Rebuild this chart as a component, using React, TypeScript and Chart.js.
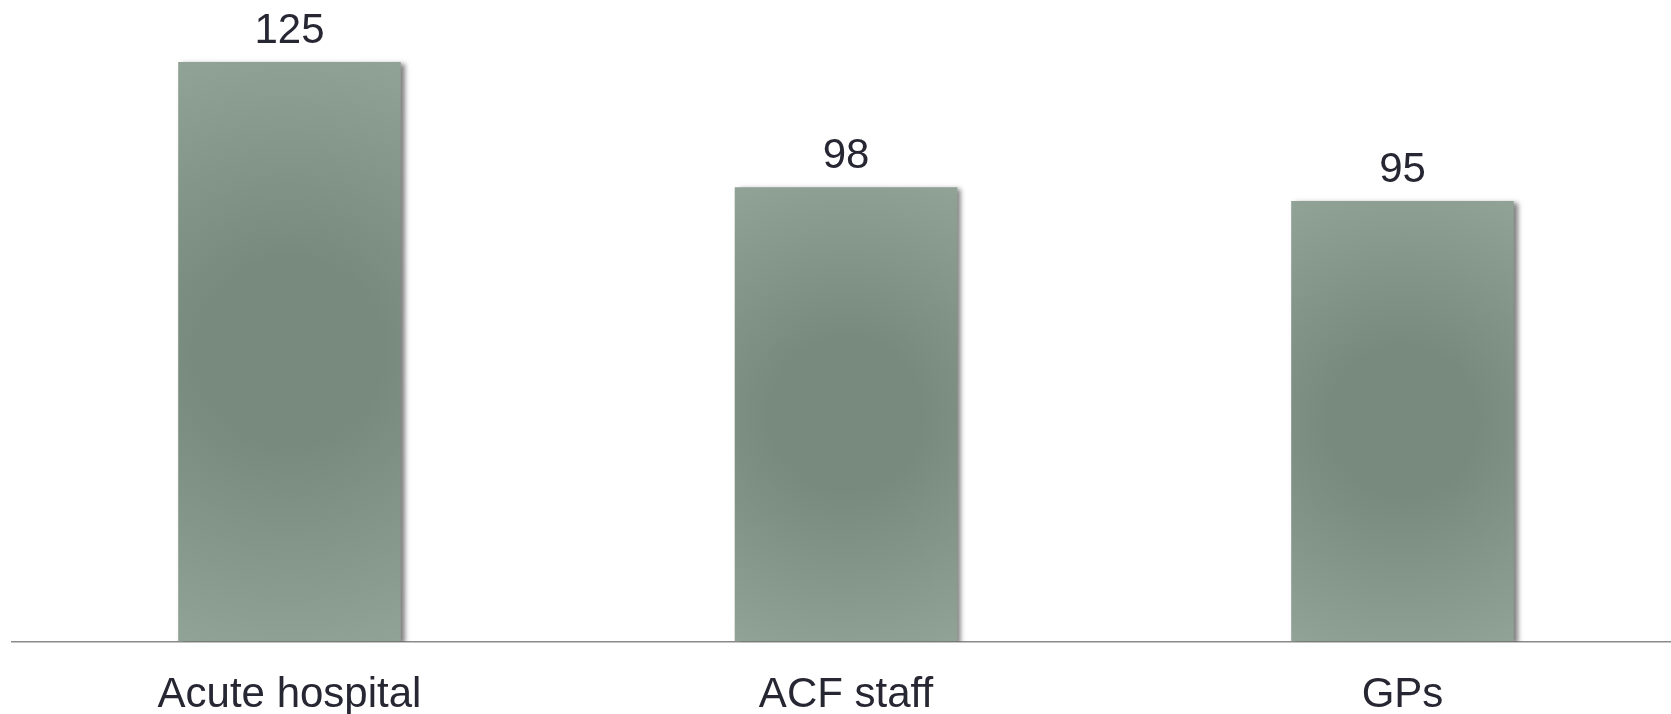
import { useEffect, useRef } from "react";
import { Chart, registerables } from "chart.js";

Chart.register(...registerables);

// Respondent groups and their counts
const categories = ["Acute hospital", "ACF staff", "GPs"];
const counts = [125, 98, 95];

const FONT = '"Liberation Sans", Arial, Helvetica, sans-serif';
const TEXT_COLOR = "#272733";
const BAR_DARK = "#788a7e";
const BAR_LIGHT = "#91a296";

// Fills each bar with a soft radial gradient and gives it a drop shadow
const barStylePlugin = {
  id: "barStyle",
  beforeDatasetsDraw(chart: any) {
    const ctx = chart.ctx;
    chart.getDatasetMeta(0).data.forEach((bar: any) => {
      const { x, y, base, width } = bar.getProps(["x", "y", "base", "width"], true);
      const cy = (y + base) / 2;
      const hh = Math.abs(base - y) / 2;
      const hw = width / 2;
      const r = Math.sqrt(hw * hw + hh * hh);
      const g = ctx.createRadialGradient(x, cy, 0, x, cy, r);
      g.addColorStop(0, BAR_DARK);
      g.addColorStop(0.3, BAR_DARK);
      g.addColorStop(1, BAR_LIGHT);
      bar.options = { ...bar.options, backgroundColor: g };
    });
    ctx.save();
    ctx.shadowColor = "rgba(0,0,0,0.5)";
    ctx.shadowBlur = 5;
    ctx.shadowOffsetX = 4;
    ctx.shadowOffsetY = 2;
  },
  afterDatasetsDraw(chart: any) {
    chart.ctx.restore();
  },
};

// Writes each bar's value just above it
const valueLabelPlugin = {
  id: "valueLabels",
  afterDatasetsDraw(chart: any) {
    const ctx = chart.ctx;
    const ds = chart.data.datasets[0];
    ctx.save();
    ctx.font = `42px ${FONT}`;
    ctx.fillStyle = TEXT_COLOR;
    ctx.textAlign = "center";
    ctx.textBaseline = "alphabetic";
    chart.getDatasetMeta(0).data.forEach((bar: any, i: number) => {
      ctx.fillText(String(ds.data[i]), bar.x, bar.y - 19);
    });
    ctx.restore();
  },
};

export default function App() {
  const canvasRef = useRef<HTMLCanvasElement>(null);

  useEffect(() => {
    document.body.style.margin = "0";
    const chart = new Chart(canvasRef.current!, {
      type: "bar",
      data: {
        labels: categories,
        datasets: [
          {
            data: counts,
            backgroundColor: () => BAR_LIGHT,
            borderWidth: 0,
            barPercentage: 0.4,
            categoryPercentage: 1,
          },
        ],
      },
      options: {
        animation: false,
        responsive: false,
        devicePixelRatio: 1,
        layout: { padding: { left: 11.25, right: 19.25, top: 15.7, bottom: 0.5 } },
        plugins: { legend: { display: false }, tooltip: { enabled: false } },
        scales: {
          x: {
            grid: { display: false },
            border: { display: true, color: "#8a8a8a", width: 1.5 },
            ticks: {
              color: TEXT_COLOR,
              padding: 24.5,
              font: { family: FONT, size: 42, lineHeight: 1 },
              maxRotation: 0,
              autoSkip: false,
            },
          },
          y: {
            display: false,
            min: 0,
            max: 135,
          },
        },
      },
      plugins: [barStylePlugin, valueLabelPlugin],
    });
    return () => chart.destroy();
  }, []);

  return (
    <div style={{ position: "absolute", left: 0, top: 0, width: 1671, height: 714, overflow: "hidden", background: "#fff" }}>
      <canvas ref={canvasRef} width={1700} height={741} style={{ display: "block" }} />
    </div>
  );
}
